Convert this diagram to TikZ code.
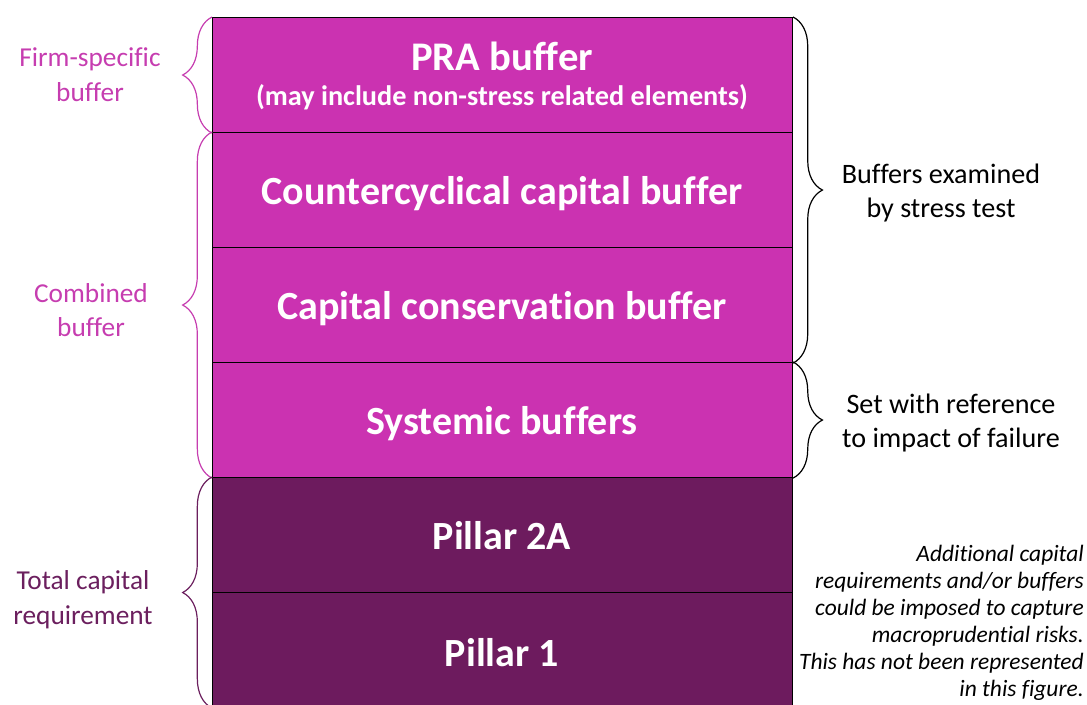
\documentclass[tikz,border=0pt]{standalone}
\usepackage{fontspec}
\setmainfont{Carlito}[Ligatures=NoCommon]
\usetikzlibrary{decorations.pathreplacing}
\definecolor{lightm}{HTML}{CB32B1}
\definecolor{darkm}{HTML}{6D1B5E}
\definecolor{lefttxt}{HTML}{C63DB0}
\definecolor{darktxt}{HTML}{6B1F5E}
\begin{document}
\begin{tikzpicture}[x=0.75pt,y=-0.75pt,
  layer/.style={draw=black,line width=0.8pt,minimum width=435pt,minimum height=86.25pt,anchor=north west,inner sep=0pt},
  light/.style={layer,fill=lightm},
  dark/.style={layer,fill=darkm},
  boxtext/.style={text=white,inner sep=0pt,anchor=base,font=\fontsize{30}{36}\selectfont\bfseries},
  bracestyle/.style={decorate,decoration={brace,amplitude=22pt},line width=0.9pt},
  sidelabel/.style={font=\fontsize{20.5}{26}\selectfont,align=center,inner sep=0pt},
  rightlabel/.style={font=\fontsize{21.1}{25.5}\selectfont,align=center,inner sep=0pt},
  notelabel/.style={font=\fontsize{17.6}{20.25}\selectfont\itshape,align=right,inner sep=0pt,anchor=north east}]
\useasboundingbox (0,0) rectangle (1087,704);
\clip (0,0) rectangle (1087,704);
\node[light] (pra) at (212,17) {};
\node[boxtext,font=\fontsize{30.5}{36}\selectfont\bfseries] (praT) at (502,70) {PRA buffer};
\node[boxtext,font=\fontsize{21.2}{25}\selectfont\bfseries] (praS) at (502,105) {(may include non-stress related elements)};
\node[light] (ccyb) at (212,132) {};
\node[boxtext] (ccybT) at (502,204) {Countercyclical capital buffer};
\node[light] (ccb) at (212,247) {};
\node[boxtext] (ccbT) at (502,319) {Capital conservation buffer};
\node[light] (sys) at (212,362) {};
\node[boxtext] (sysT) at (502,434) {Systemic buffers};
\node[dark] (p2a) at (212,477) {};
\node[boxtext] (p2aT) at (502,549) {Pillar 2A};
\node[dark] (p1) at (212,592) {};
\node[boxtext] (p1T) at (502,666) {Pillar 1};
% left braces
\draw[bracestyle,draw=lefttxt] (pra.south west) -- (pra.north west);
\draw[bracestyle,draw=lefttxt] (sys.south west) -- (ccyb.north west);
\draw[bracestyle,draw=darktxt] (p1.south west) -- (p2a.north west);
% right braces
\draw[bracestyle,draw=black] (pra.north east) -- (ccb.south east);
\draw[bracestyle,draw=black] (sys.north east) -- (sys.south east);
% labels
\node[sidelabel,text=lefttxt] (firm) at (90,75) {Firm-specific\\buffer};
\node[sidelabel,text=lefttxt] (comb) at (91,310) {Combined\\buffer};
\node[sidelabel,text=darktxt] (tcr) at (83,600) {Total capital\\requirement};
\node[rightlabel] (exam) at (941,193) {Buffers examined\\by stress test};
\node[rightlabel] (ref) at (951,423) {Set with reference\\to impact of failure};
\node[notelabel] (note) at (1084,545) {Additional capital\\requirements and/or buffers\\could be imposed to capture\\macroprudential risks.\\This has not been represented\\in this figure.};
\end{tikzpicture}
\end{document}
